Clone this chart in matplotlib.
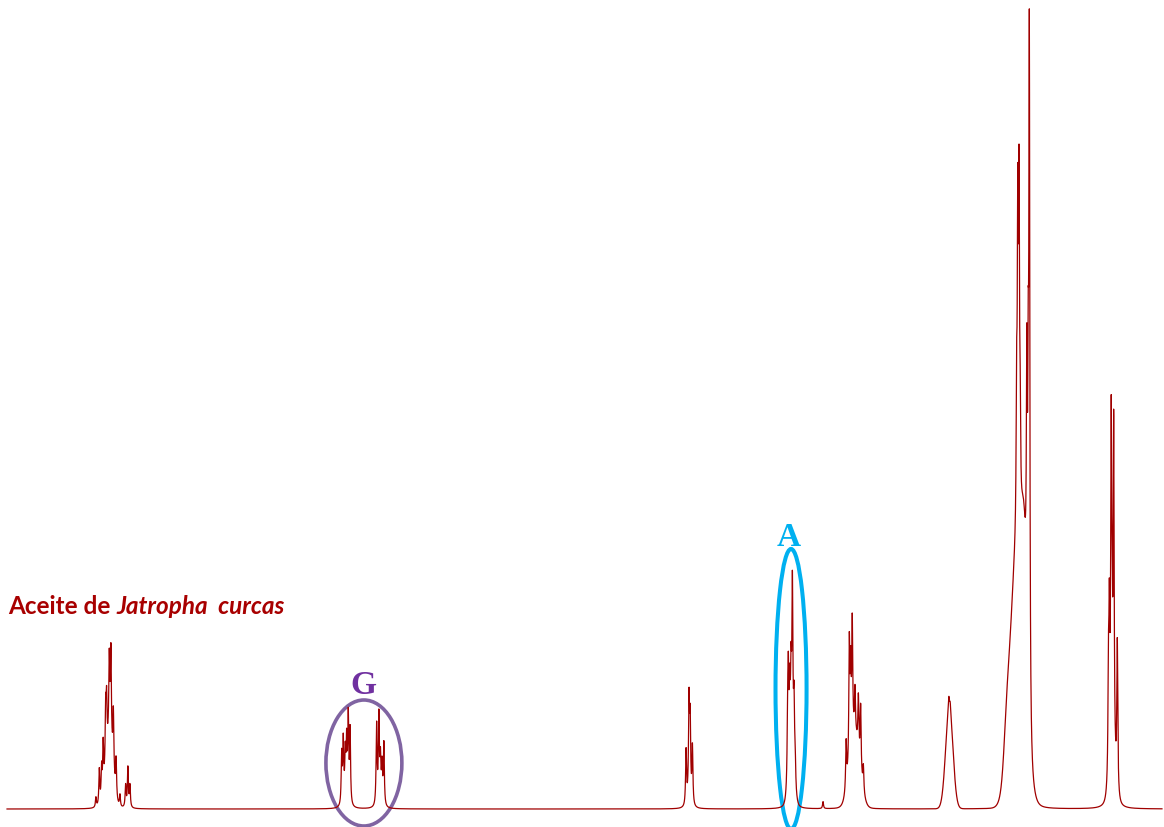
import numpy as np
import matplotlib
matplotlib.use("Agg")
import matplotlib.pyplot as plt
from matplotlib.patches import Ellipse

# sharp lines of the 1H spectrum: position (ppm) and height
line_ppm = [5.362, 5.347, 5.337, 5.330, 5.319, 5.315, 5.303, 5.296, 5.285, 5.273, 5.256,
            5.231, 5.221, 5.212,
            4.278, 4.271, 4.262, 4.256, 4.249, 4.241,
            4.124, 4.114, 4.107, 4.100, 4.092,
            2.759, 2.746, 2.741, 2.731,
            2.311, 2.308, 2.302, 2.296, 2.290, 2.283, 2.278,
            2.155,
            2.053, 2.039, 2.033, 2.026, 2.014, 1.999, 1.989, 1.977,
            1.600, 1.594,
            1.301, 1.296, 1.2905, 1.2855, 1.256, 1.250, 1.245,
            0.896, 0.892, 0.884, 0.880, 0.873, 0.857]
line_height = [10, 36, 33, 50, 58, 55, 80, 92, 60, 38, 12,
               22, 40, 22,
               50, 60, 42, 55, 84, 74,
               80, 82, 38, 36, 62,
               55, 95, 75, 58,
               58, 90, 65, 70, 165, 68, 30,
               7,
               48, 120, 80, 118, 45, 55, 65, 25,
               12, 8,
               130, 300, 325, 90, 250, 240, 670,
               100, 145, 320, 90, 330, 150]
line_hwhm = 0.0025

# broad envelopes under the multiplets: centre (ppm), height, sigma (ppm)
hump_ppm = [5.302, 4.262, 4.110, 2.745, 2.295, 2.015, 1.598, 1.300, 1.345, 1.268, 0.878]
hump_height = [65, 8, 8, 8, 55, 70, 100, 250, 30, 130, 40]
hump_sigma = [0.015, 0.008, 0.008, 0.007, 0.011, 0.022, 0.016, 0.030, 0.012, 0.012, 0.012]

ppm = np.linspace(5.754, 0.660, 12000)
spec = np.zeros_like(ppm)
for c, h in zip(line_ppm, line_height):
    spec += h / (1 + ((ppm - c) / line_hwhm) ** 2)
for c, h, s in zip(hump_ppm, hump_height, hump_sigma):
    spec += h * np.exp(-0.5 * ((ppm - c) / s) ** 2)

fig = plt.figure(figsize=(11.64, 8.28), dpi=100)
ax = fig.add_axes([0, 0, 1, 1])
ax.plot(ppm, spec, color="#A00000", lw=0.9)
ax.set_xlim(5.785, 0.651)
ax.set_ylim(-18, 810)
ax.axis("off")

# marked signals: G (glycerol CH2) and A (alpha-CH2)
ax.add_patch(Ellipse((4.180, 46), 0.335, 126, fill=False, ec="#8064A2", lw=2.6))
ax.add_patch(Ellipse((2.296, 120), 0.137, 280, fill=False, ec="#00B0F0", lw=2.9))
ax.text(4.184, 124, "G", color="#7030A0", fontsize=24, fontweight="bold",
        family="Liberation Serif", ha="center", va="center")
ax.text(2.305, 273, "A", color="#00B0F0", fontsize=24, fontweight="bold",
        family="Liberation Serif", ha="center", va="center")

t1 = ax.text(5.750, 203, "Aceite de ", color="#A80000", fontsize=17.5, fontweight="bold",
             family="Lato", ha="left", va="center")
ax.annotate("Jatropha  curcas", xy=(1, 0.5), xycoords=t1, color="#A80000", fontsize=17.5,
            fontweight="bold", fontstyle="italic", family="Lato", ha="left", va="center")

fig.savefig("out.png", dpi=100)
